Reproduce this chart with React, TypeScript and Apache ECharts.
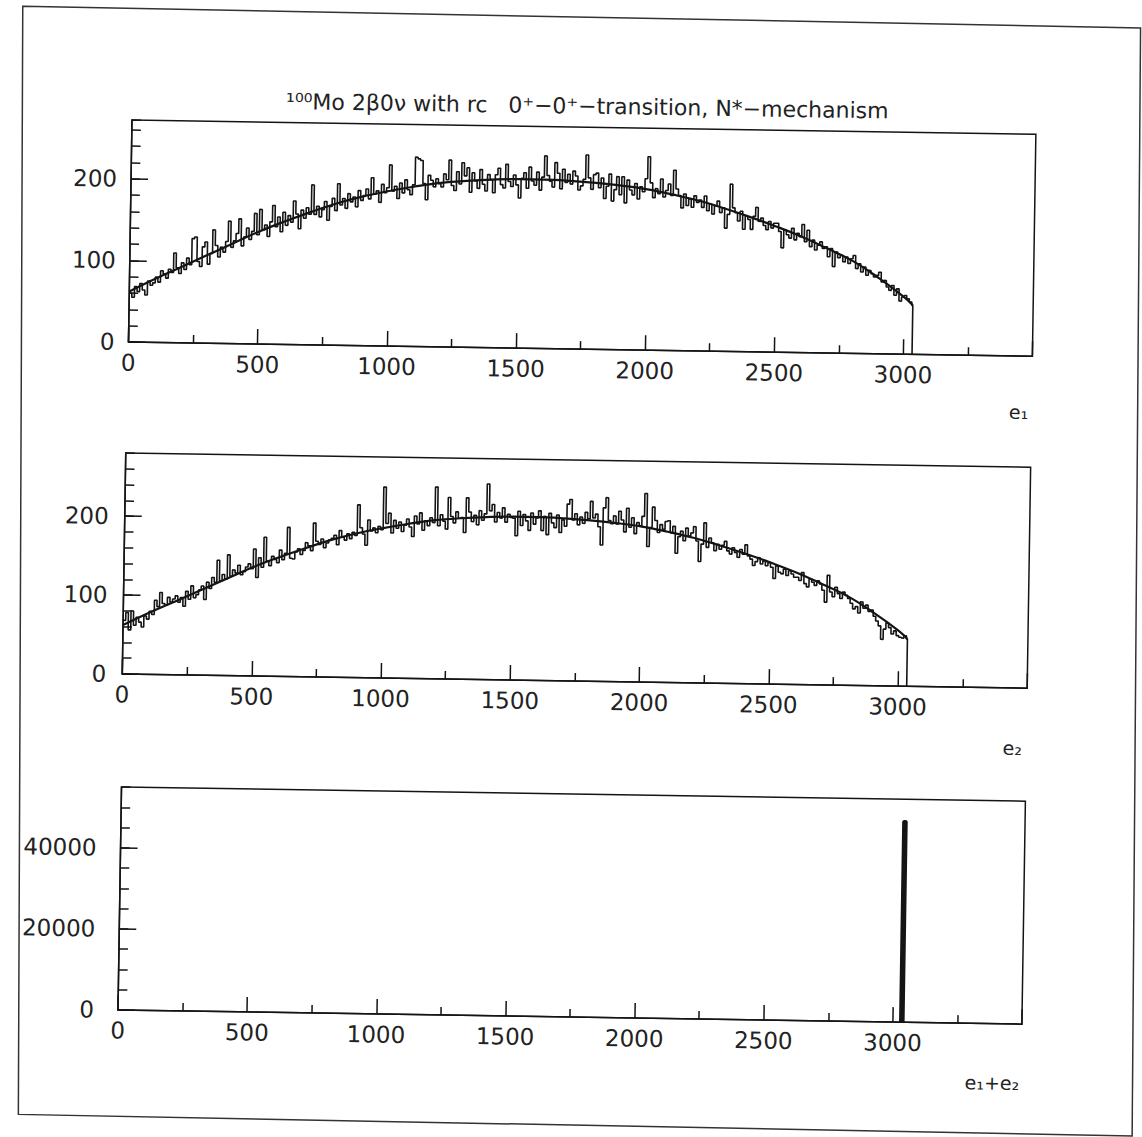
import React, { useEffect, useRef } from "react";
import * as echarts from "echarts";

// ---- data ----
const BIN_WIDTH = 10; // keV per histogram bin
const Q_VALUE = 3034; // endpoint, keV

// e1 single-electron spectrum, counts per 10 keV bin (one row = 100 keV)
const e1Counts = [
  60, 55, 68, 62, 72, 64, 58, 75, 70, 73,
  80, 74, 88, 84, 79, 90, 86, 110, 92, 85,
  98, 90, 104, 96, 128, 130, 100, 94, 118, 124,
  97, 110, 139, 120, 106, 118, 112, 125, 150, 118,
  126, 135, 153, 120, 131, 142, 128, 138, 160, 134,
  165, 140, 146, 132, 150, 170, 144, 156, 138, 162,
  146, 158, 150, 176, 160, 142, 165, 155, 168, 160,
  196, 160, 170, 157, 166, 176, 153, 170, 180, 165,
  198, 172, 180, 168, 186, 176, 182, 170, 190, 178,
  184, 192, 180, 206, 186, 190, 176, 198, 188, 194,
  222, 190, 196, 181, 200, 188, 204, 192, 186, 198,
  232, 230, 228, 200, 180, 210, 204, 196, 206, 200,
  196, 212, 205, 229, 198, 192, 215, 200, 226, 210,
  220, 190, 214, 204, 195, 218, 200, 192, 212, 206,
  190, 212, 220, 200, 196, 225, 204, 198, 212, 200,
  184, 208, 215, 196, 222, 205, 200, 216, 194, 210,
  236, 212, 205, 198, 228, 215, 196, 220, 204, 214,
  202, 218, 212, 195, 200, 208, 238, 210, 196, 214,
  216, 198, 210, 185, 200, 215, 182, 196, 212, 190,
  212, 180, 208, 196, 190, 204, 185, 200, 194, 210,
  237, 205, 187, 198, 192, 210, 188, 196, 204, 190,
  221, 198, 190, 175, 192, 178, 186, 176, 190, 182,
  185, 176, 190, 172, 180, 168, 178, 184, 170, 176,
  151, 168, 205, 176, 170, 160, 172, 150, 166, 162,
  150, 166, 177, 160, 164, 155, 150, 160, 152, 158,
  158, 148, 128, 150, 144, 140, 152, 138, 146, 142,
  157, 136, 150, 130, 138, 126, 132, 136, 128, 130,
  118, 128, 106, 124, 117, 120, 112, 118, 110, 116,
  120, 104, 110, 100, 106, 96, 102, 98, 94, 96,
  100, 88, 90, 82, 78, 84, 72, 80, 65, 70,
  72, 68, 64, 60,
];

// e2 single-electron spectrum
const e2Counts = [
  68, 78, 56, 80, 62, 72, 66, 60, 74, 70,
  80, 76, 94, 86, 104, 90, 88, 98, 92, 96,
  100, 92, 98, 87, 106, 96, 113, 98, 102, 108,
  113, 96, 118, 110, 124, 118, 146, 120, 128, 122,
  153, 126, 134, 130, 140, 128, 132, 138, 142, 136,
  161, 125, 150, 138, 176, 146, 140, 152, 148, 144,
  160, 148, 156, 189, 150, 149, 158, 162, 155, 160,
  170, 166, 160, 195, 172, 168, 175, 164, 170, 174,
  176, 180, 168, 186, 178, 174, 182, 176, 184, 180,
  219, 190, 182, 168, 200, 186, 190, 184, 192, 188,
  242, 196, 209, 184, 200, 190, 198, 186, 194, 202,
  192, 180, 206, 196, 210, 188, 200, 194, 204, 198,
  243, 194, 208, 200, 190, 230, 206, 198, 212, 204,
  205, 186, 230, 212, 200, 208, 196, 214, 202, 210,
  248, 214, 222, 200, 212, 205, 218, 200, 210, 206,
  205, 183, 214, 196, 210, 202, 190, 212, 198, 206,
  215, 190, 208, 185, 212, 200, 194, 210, 188, 204,
  196, 224, 230, 204, 212, 198, 208, 200, 214, 206,
  228, 207, 212, 196, 173, 220, 233, 204, 200, 210,
  200, 216, 205, 190, 220, 196, 208, 188, 202, 198,
  210, 239, 172, 196, 222, 205, 190, 200, 194, 204,
  205, 190, 198, 164, 185, 192, 180, 196, 186, 190,
  198, 180, 154, 176, 203, 172, 184, 178, 168, 176,
  170, 175, 180, 168, 164, 172, 166, 160, 170, 164,
  176, 162, 158, 150, 155, 160, 152, 156, 150, 154,
  148, 134, 150, 142, 140, 146, 138, 144, 140, 136,
  136, 132, 142, 128, 124, 134, 130, 126, 132, 128,
  120, 105, 139, 118, 112, 124, 116, 110, 118, 114,
  110, 104, 97, 100, 92, 106, 98, 102, 94, 96,
  88, 82, 76, 59, 72, 80, 74, 66, 70, 64,
  62, 61, 64, 60,
];

// theoretical curve drawn over both single-electron spectra
const fitEnergies = [
  0, 100, 200, 300, 400, 500, 600, 700, 800, 900, 1000, 1100, 1200, 1300, 1400, 1500,
  1600, 1700, 1800, 1900, 2000, 2100, 2200, 2300, 2400, 2500, 2600, 2700, 2800, 2900, 3000, 3034,
];
const fitValues = [
  62, 78, 93, 108, 123, 138, 151, 163, 174, 183, 190, 196, 201, 204, 206, 207,
  207, 206, 204, 201, 197, 191, 184, 175, 165, 154, 142, 128, 113, 93, 70, 60,
];

// sum spectrum e1+e2: one line at Q
const sumPeakEnergy = 3030;
const sumPeakWidth = 10;
const sumPeakCount = 49500;

// axes
const xTicks = { min: 0, max: 3500, interval: 500 };
const yMax = [272, 280, 55000];
const yMajor = [100, 100, 20000];
const yMinor = [20, 20, 5000];

const titleText = "¹⁰⁰Mo 2β0ν with rc   0⁺−0⁺−transition, N*−mechanism";
const axisNames = ["e₁", "e₂", "e₁+e₂"];

const INK = "#141414";
const FONT = "DejaVu Sans";

function histData(counts: number[]) {
  const pts: number[][] = counts.map((c, i) => [i * BIN_WIDTH, c]);
  pts.push([Q_VALUE, 0]);
  return pts;
}

const plain = (v: number) => String(v);

export default function App() {
  const ref = useRef<HTMLDivElement>(null);

  useEffect(() => {
    if (!ref.current) return;
    const chart = echarts.init(ref.current, null, { renderer: "svg" });

    const grids = [
      { left: 125, top: 127, width: 904, height: 222 },
      { left: 124, top: 460, width: 905, height: 221 },
      { left: 125, top: 794, width: 904, height: 223 },
    ];
    const labelMargins = [14, 16, 24];

    const xAxis = grids.map((_, i) => ({
      gridIndex: i,
      type: "value",
      min: xTicks.min,
      max: xTicks.max,
      interval: xTicks.interval,
      axisLine: { show: true, onZero: false, lineStyle: { color: INK, width: 1.5 } },
      axisTick: { show: true, inside: true, length: 15, lineStyle: { color: INK, width: 1.5 } },
      minorTick: { show: true, splitNumber: 2, length: 8, lineStyle: { color: INK, width: 1.5 } },
      axisLabel: {
        margin: 9,
        fontSize: 23,
        fontFamily: FONT,
        color: "#222",
        showMaxLabel: false,
        formatter: plain,
      },
      splitLine: { show: false },
    }));

    const yAxis: any[] = [];
    grids.forEach((_, i) => {
      yAxis.push({
        gridIndex: i,
        type: "value",
        position: "left",
        min: 0,
        max: yMax[i],
        interval: yMajor[i],
        axisLine: { show: true, onZero: false, lineStyle: { color: INK, width: 1.5 } },
        axisTick: { show: true, inside: true, length: 17, lineStyle: { color: INK, width: 1.5 } },
        axisLabel: {
          margin: labelMargins[i],
          fontSize: 23,
          fontFamily: FONT,
          color: "#222",
          showMaxLabel: false,
          formatter: plain,
        },
        splitLine: { show: false },
      });
      yAxis.push({
        gridIndex: i,
        type: "value",
        position: "left",
        min: 0,
        max: yMax[i],
        interval: yMinor[i],
        axisLine: { show: false },
        axisTick: { show: true, inside: true, length: 9, lineStyle: { color: INK, width: 1.5 } },
        axisLabel: { show: false },
        splitLine: { show: false },
      });
    });

    const fitData = fitEnergies.map((e, i) => [e, fitValues[i]]);
    const sumData = [
      [sumPeakEnergy, 0],
      [sumPeakEnergy, sumPeakCount],
      [sumPeakEnergy + sumPeakWidth, 0],
    ];

    const histLine = { color: INK, width: 1.6 };

    const option: any = {
      animation: false,
      backgroundColor: "#ffffff",
      grid: grids.map((g) => ({
        ...g,
        show: true,
        borderColor: INK,
        borderWidth: 1.5,
        backgroundColor: "transparent",
      })),
      xAxis,
      yAxis,
      series: [
        {
          type: "line",
          xAxisIndex: 0,
          yAxisIndex: 0,
          step: "end",
          symbol: "none",
          lineStyle: histLine,
          data: histData(e1Counts),
        },
        {
          type: "line",
          xAxisIndex: 0,
          yAxisIndex: 0,
          smooth: 0.4,
          symbol: "none",
          lineStyle: { color: INK, width: 2.2 },
          data: fitData,
        },
        {
          type: "line",
          xAxisIndex: 1,
          yAxisIndex: 2,
          step: "end",
          symbol: "none",
          lineStyle: histLine,
          data: histData(e2Counts),
        },
        {
          type: "line",
          xAxisIndex: 1,
          yAxisIndex: 2,
          smooth: 0.4,
          symbol: "none",
          lineStyle: { color: INK, width: 2.2 },
          data: fitData,
        },
        {
          type: "line",
          xAxisIndex: 2,
          yAxisIndex: 4,
          step: "end",
          symbol: "none",
          lineStyle: { color: INK, width: 3 },
          data: sumData,
        },
      ],
      graphic: [
        {
          type: "polygon",
          silent: true,
          shape: {
            points: [
              [14, 15],
              [1132, 19],
              [1141, 1127],
              [27, 1123],
            ],
          },
          style: { fill: "none", stroke: "#333", lineWidth: 1.5 },
        },
        {
          type: "text",
          x: 580,
          y: 106,
          style: {
            text: titleText,
            fontSize: 22,
            fontFamily: FONT,
            fill: "#222",
            align: "center",
            verticalAlign: "middle",
          },
        },
        {
          type: "text",
          x: 1016,
          y: 405,
          style: { text: axisNames[0], fontSize: 19, fontFamily: FONT, fill: "#222", align: "center", verticalAlign: "middle" },
        },
        {
          type: "text",
          x: 1015,
          y: 741,
          style: { text: axisNames[1], fontSize: 19, fontFamily: FONT, fill: "#222", align: "center", verticalAlign: "middle" },
        },
        {
          type: "text",
          x: 1000,
          y: 1076,
          style: { text: axisNames[2], fontSize: 19, fontFamily: FONT, fill: "#222", align: "center", verticalAlign: "middle" },
        },
      ],
    };

    chart.setOption(option);
    return () => chart.dispose();
  }, []);

  return (
    <div
      style={{
        position: "absolute",
        left: 0,
        top: 0,
        width: 1142,
        height: 1137,
        overflow: "hidden",
        background: "#fff",
      }}
    >
      <div
        ref={ref}
        style={{
          width: 1142,
          height: 1137,
          transform: "rotate(0.9deg)",
          transformOrigin: "571px 568px",
        }}
      />
    </div>
  );
}
